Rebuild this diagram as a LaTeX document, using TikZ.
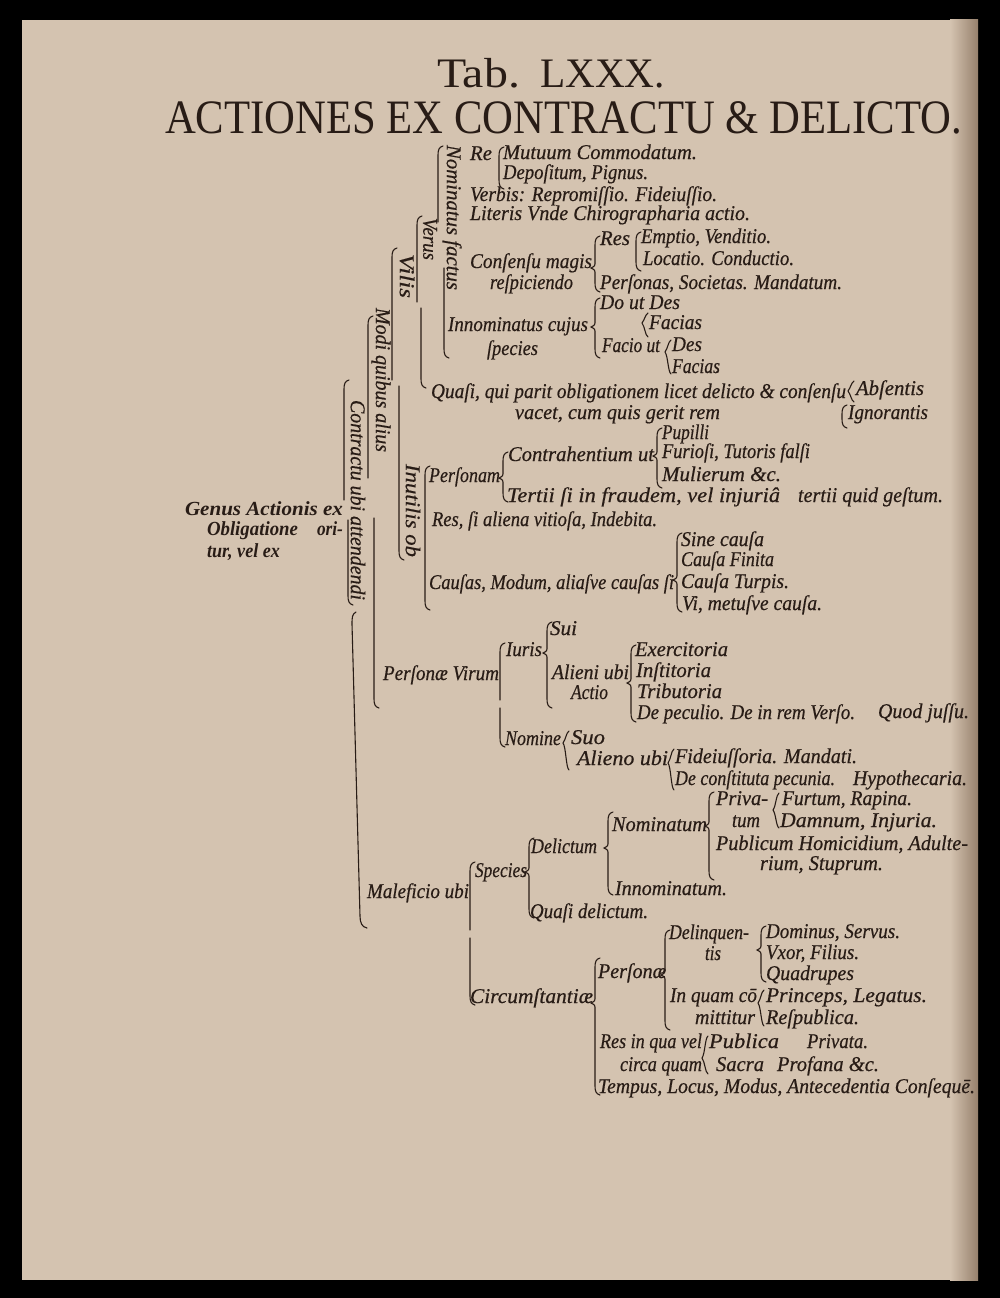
\documentclass[tikz,border=0pt]{standalone}
\usepackage{fontspec}
\setmainfont{Liberation Serif}[ItalicFeatures={FakeBold=0.5}]
\usepackage{graphicx}
\definecolor{paper}{RGB}{212,195,176}
\definecolor{paperdark}{RGB}{150,128,108}
\definecolor{ink}{RGB}{40,28,22}
\tikzset{
  t/.style={anchor=base west, inner sep=0pt, outer sep=0pt, text=ink, font=\fontsize{21}{24}\selectfont\itshape},
  tb/.style={t, font=\fontsize{20}{24}\selectfont\bfseries\itshape},
  ttl/.style={anchor=base west, inner sep=0pt, outer sep=0pt, text=ink},
  brc/.style={draw=ink, line width=1.1pt, line cap=round},
}
\newcommand{\tx}[5]{\node[t] (#1) at (#2,#3) {\resizebox{#4pt}{\height}{#5}};}
\newcommand{\vx}[5]{\node[t,rotate=-90,anchor=west] (#1) at (#2,#3) {\resizebox{#4pt}{\height}{#5}};}
\newcommand{\TopArm}[3]{\draw[brc] ({#1+5},#2) .. controls ({#1+1},{#2+1}) and (#1,{#2+4}) .. (#1,{#2+9}) -- (#1,#3);}
\newcommand{\BotArm}[3]{\draw[brc] (#1,#2) -- (#1,{#3-9}) .. controls (#1,{#3-4}) and ({#1+1},{#3-1}) .. ({#1+5},#3);}
\newcommand{\Lbr}[3]{\draw[brc] ({#1+5},#2) .. controls ({#1+1},{#2+1}) and (#1,{#2+4}) .. (#1,{#2+9}) -- (#1,{#3-9}) .. controls (#1,{#3-4}) and ({#1+1},{#3-1}) .. ({#1+5},#3);}
\newcommand{\Cbr}[4]{\draw[brc] ({#1+5},#2) .. controls ({#1+1},{#2+1}) and (#1,{#2+4}) .. (#1,{#2+9}) -- (#1,{#3-6}) .. controls (#1,{#3-2}) .. ({#1-4},#3) .. controls (#1,{#3+2}) .. (#1,{#3+6}) -- (#1,{#4-9}) .. controls (#1,{#4-4}) and ({#1+1},{#4-1}) .. ({#1+5},#4);}
\newcommand{\Sbr}[4]{\draw[brc] ({#1+3},#2) .. controls (#1,{#2+2}) and (#1,{#3-4}) .. ({#1-3},#3) .. controls (#1,{#3+4}) and (#1,{#4-2}) .. ({#1+3},#4);}
\begin{document}
\begin{tikzpicture}[x=1pt,y=-1pt]
\useasboundingbox (0,0) rectangle (1000,1298);
\fill[black] (0,0) rectangle (1000,1298);
\fill[paper] (22,20) rectangle (978,1280);
\shade[left color=paper, right color=paperdark] (950,20) rectangle (978,1280);

% titles
\node[ttl, font=\fontsize{42}{46}\selectfont] (tab) at (437,88) {\resizebox{83pt}{\height}{Tab.}};
\node[ttl, font=\fontsize{42}{46}\selectfont] (lxxx) at (540,88) {\resizebox{125pt}{\height}{LXXX.}};
\node[ttl, font=\fontsize{48}{52}\selectfont] (main) at (165,133) {\resizebox{797pt}{\height}{ACTIONES EX CONTRACTU \& DELICTO.}};

% vertical labels
\vx{vnom}{452}{145}{145}{Nominatus factus}
\vx{vver}{430}{218}{42}{Verus}
\vx{vvil}{407}{254}{44}{Vilis}
\vx{vmod}{381}{308}{144}{Modi quibus alius}
\vx{vcon}{358}{400}{200}{Contractu ubi attendendi}
\vx{vinu}{413}{464}{93}{Inutilis ob}

% main braces
\TopArm{438}{146}{222} \BotArm{444}{268}{358}
\TopArm{417}{216}{302} \BotArm{421}{308}{388}
\TopArm{392}{248}{380} \BotArm{399}{386}{560}
\TopArm{368}{316}{478} \BotArm{374}{518}{708}
\TopArm{344}{380}{500} \BotArm{348}{520}{605}
\draw[brc] (356,612) .. controls (352,614) and (352,618) .. (352,624) -- (360,916) .. controls (360,923) and (362,927) .. (367,928);

% top block
\tx{re}{470}{160}{22}{Re}
\Lbr{499}{147}{189}
\tx{mut}{503}{159}{194}{Mutuum Commodatum.}
\tx{dep}{503}{179}{145}{Depoſitum, Pignus.}
\tx{verb}{470}{201}{247}{Verbis: Repromiſſio. Fideiuſſio.}
\tx{lit}{470}{220}{280}{Literis Vnde Chirographaria actio.}
\tx{res}{600}{245}{30}{Res}
\Lbr{636}{232}{271}
\tx{empt}{641}{243}{130}{Emptio, Venditio.}
\tx{loc}{643}{265}{151}{Locatio. Conductio.}
\tx{cons}{470}{268}{122}{Conſenſu magis}
\tx{resp}{490}{289}{83}{reſpiciendo}
\Cbr{595}{236}{268}{292}
\tx{pers}{600}{289}{242}{Perſonas, Societas. Mandatum.}
\tx{dout}{600}{309}{80}{Do ut Des}
\Cbr{595}{298}{327}{358}
\tx{inn}{448}{331}{140}{Innominatus cujus}
\Sbr{645}{313}{323}{337}
\tx{fac}{649}{329}{53}{Facias}
\tx{spec}{487}{355}{51}{ſpecies}
\tx{fut}{602}{352}{58}{Facio ut}
\Sbr{668}{340}{352}{374}
\tx{des}{672}{351}{30}{Des}
\tx{fac2}{672}{373}{48}{Facias}

% Quasi
\tx{quasi}{431}{398}{415}{Quaſi, qui parit obligationem licet delicto \& conſenſu}
\Sbr{851}{381}{391}{402}
\tx{abs}{856}{395}{68}{Abſentis}
\tx{vac}{515}{419}{205}{vacet, cum quis gerit rem}
\Lbr{842}{405}{428}
\tx{ign}{848}{419}{80}{Ignorantis}

% Inutilis
\Lbr{425}{466}{610}
\tx{pup}{662}{439}{47}{Pupilli}
\Cbr{657}{428}{456}{488}
\tx{contr}{508}{461}{146}{Contrahentium ut}
\tx{fur}{662}{458}{148}{Furioſi, Tutoris falſi}
\Cbr{503}{452}{478}{502}
\tx{persm}{429}{482}{71}{Perſonam}
\tx{mul}{662}{481}{119}{Mulierum \&c.}
\tx{ter}{507}{502}{273}{Tertii ſi in fraudem, vel injuriâ}
\tx{ter2}{798}{502}{145}{tertii quid geſtum.}
\tx{resal}{432}{526}{225}{Res, ſi aliena vitioſa, Indebita.}
\Cbr{677}{533}{580}{612}
\tx{sine}{681}{546}{83}{Sine cauſa}
\tx{fin}{681}{566}{93}{Cauſa Finita}
\tx{caus}{429}{589}{245}{Cauſas, Modum, aliaſve cauſas ſi}
\tx{turp}{681}{588}{108}{Cauſa Turpis.}
\tx{vim}{682}{610}{140}{Vi, metuſve cauſa.}

% Genus
\node[tb] (gen1) at (185,515) {\resizebox{158pt}{\height}{Genus Actionis ex}};
\node[tb] (gen2) at (207,535) {\resizebox{91pt}{\height}{Obligatione}};
\node[tb] (gen3) at (317,535) {\resizebox{26pt}{\height}{ori-}};
\node[tb] (gen4) at (207,557) {\resizebox{73pt}{\height}{tur, vel ex}};

% Personae Virum
\tx{sui}{550}{635}{27}{Sui}
\Cbr{547}{622}{653}{708}
\tx{iur}{506}{656}{36}{Iuris}
\Cbr{631}{645}{683}{722}
\tx{exer}{635}{656}{93}{Exercitoria}
\TopArm{500}{643}{700} \BotArm{500}{708}{747}
\tx{pv}{383}{680}{116}{Perſonæ Virum}
\tx{ali}{552}{679}{77}{Alieni ubi}
\tx{inst}{636}{677}{75}{Inſtitoria}
\tx{act}{571}{699}{37}{Actio}
\tx{trib}{637}{698}{85}{Tributoria}
\tx{pec}{637}{719}{218}{De peculio. De in rem Verſo.}
\tx{quod}{878}{718}{91}{Quod juſſu.}
\tx{nomn}{505}{745}{56}{Nomine}
\Sbr{566}{731}{743}{770}
\tx{suo}{571}{744}{34}{Suo}
\tx{alo}{577}{765}{91}{Alieno ubi}
\Sbr{671}{749}{763}{790}
\tx{fid}{675}{763}{182}{Fideiuſſoria. Mandati.}
\tx{decon}{675}{785}{160}{De conſtituta pecunia.}
\tx{hyp}{853}{785}{114}{Hypothecaria.}

% Maleficio
\TopArm{470}{862}{930} \BotArm{470}{938}{1005}
\tx{mal}{367}{898}{102}{Maleficio ubi}
\tx{spc}{475}{877}{52}{Species}
\Cbr{529}{838}{872}{918}
\tx{del}{531}{853}{66}{Delictum}
\Cbr{608}{812}{848}{895}
\tx{nomt}{612}{831}{95}{Nominatum}
\Cbr{709}{792}{826}{880}
\tx{priv}{716}{805}{52}{Priva-}
\Sbr{776}{793}{810}{828}
\tx{furt}{782}{805}{130}{Furtum, Rapina.}
\tx{tum}{732}{827}{28}{tum}
\tx{damn}{780}{827}{157}{Damnum, Injuria.}
\tx{pub}{716}{850}{252}{Publicum Homicidium, Adulte-}
\tx{rium}{760}{870}{123}{rium, Stuprum.}
\tx{innt}{615}{895}{112}{Innominatum.}
\tx{qdel}{530}{918}{118}{Quaſi delictum.}

% Circumstantiae
\tx{delq}{669}{939}{80}{Delinquen-}
\Cbr{665}{930}{975}{1030}
\tx{tis}{705}{960}{16}{tis}
\Cbr{761}{926}{950}{982}
\tx{dom}{766}{938}{134}{Dominus, Servus.}
\tx{vxor}{766}{959}{93}{Vxor, Filius.}
\tx{quad}{766}{980}{88}{Quadrupes}
\tx{perse}{598}{978}{68}{Perſonæ}
\Cbr{595}{958}{1003}{1095}
\tx{circ}{470}{1003}{123}{Circumſtantiæ}
\tx{inq}{670}{1002}{87}{In quam cō}
\Sbr{761}{990}{1003}{1026}
\tx{princ}{766}{1002}{161}{Princeps, Legatus.}
\tx{mitt}{695}{1024}{60}{mittitur}
\tx{respu}{766}{1024}{93}{Reſpublica.}
\tx{resin}{600}{1048}{102}{Res in qua vel}
\Sbr{705}{1036}{1058}{1074}
\tx{publ}{709}{1048}{70}{Publica}
\tx{priva}{807}{1048}{61}{Privata.}
\tx{circa}{620}{1071}{82}{circa quam}
\tx{sacr}{716}{1071}{48}{Sacra}
\tx{prof}{777}{1071}{102}{Profana \&c.}
\tx{temp}{598}{1093}{377}{Tempus, Locus, Modus, Antecedentia Conſequē.}
\end{tikzpicture}
\end{document}
